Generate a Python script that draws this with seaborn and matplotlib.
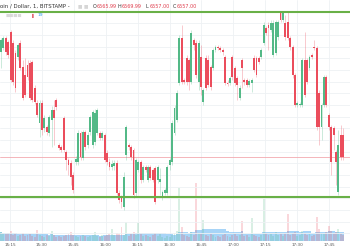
import numpy as np
import pandas as pd
import matplotlib
matplotlib.use("Agg")
import matplotlib.pyplot as plt
import seaborn as sns

# ---------------- data ----------------
open_ = [6567.5, 6567.9, 6568.9, 6568.5, 6569.5, 6568.4, 6567.4, 6567.0, 6568.4, 6566.0,
         6565.2, 6566.2, 6566.4, 6566.5, 6563.9, 6562.4, 6560.4, 6562.4, 6559.9, 6560.0,
         6559.4, 6560.7, 6561.7, 6562.7, 6558.2, 6558.0, 6560.9, 6557.5, 6556.7, 6556.4,
         6555.2, 6556.5, 6556.5, 6559.4, 6556.9, 6559.5, 6558.2, 6559.5, 6558.2, 6558.5,
         6559.4, 6559.4, 6558.9, 6559.2, 6557.4, 6556.5, 6556.0, 6556.1, 6556.4, 6553.4,
         6552.9, 6552.0, 6557.2, 6558.2, 6558.0, 6557.7, 6553.4, 6555.7, 6556.5, 6554.7,
         6556.0, 6554.7, 6556.0, 6555.7, 6555.9, 6554.7, 6554.5, 6553.0, 6553.4, 6553.4,
         6556.2, 6556.5, 6559.4, 6560.7, 6564.4, 6568.9, 6564.7, 6566.9, 6566.7, 6564.5,
         6568.7, 6568.4, 6564.5, 6567.0, 6562.5, 6566.9, 6566.7, 6566.0, 6565.9, 6567.7,
         6568.0, 6567.9, 6567.7, 6567.0, 6564.4, 6564.4, 6567.0, 6565.9, 6564.9, 6562.9,
         6566.7, 6564.7, 6564.7, 6564.2, 6564.4, 6566.9, 6566.9, 6566.9, 6567.0, 6568.4,
         6569.9, 6570.2, 6569.7, 6567.2, 6567.4, 6569.0, 6571.4, 6570.7, 6570.4, 6570.5,
         6568.9, 6568.0, 6565.2, 6562.2, 6562.2, 6562.2, 6566.7, 6566.7, 6565.9, 6567.2,
         6568.0, 6567.9, 6563.4, 6560.0, 6562.2, 6565.0, 6561.2, 6560.0, 6559.9, 6557.5,
         6553.5, 6559.2, 6559.2]
high = [6568.9, 6569.1, 6569.1, 6568.7, 6569.7, 6568.7, 6567.7, 6568.4, 6568.7, 6566.7,
        6566.9, 6566.7, 6566.7, 6566.7, 6564.2, 6562.7, 6562.7, 6562.7, 6561.2, 6560.2,
        6561.2, 6562.1, 6562.7, 6562.9, 6558.4, 6558.2, 6561.1, 6557.7, 6556.9, 6556.7,
        6555.5, 6557.1, 6559.7, 6559.6, 6559.7, 6559.7, 6559.5, 6561.2, 6561.7, 6561.8,
        6561.9, 6559.6, 6559.6, 6559.4, 6557.7, 6556.9, 6556.7, 6556.7, 6556.7, 6553.7,
        6553.2, 6555.5, 6560.2, 6558.4, 6558.2, 6557.9, 6556.9, 6556.7, 6556.7, 6556.2,
        6556.2, 6556.2, 6556.2, 6555.9, 6556.1, 6556.2, 6555.9, 6553.7, 6553.9, 6556.2,
        6556.9, 6560.7, 6562.2, 6563.7, 6569.2, 6570.2, 6564.9, 6567.2, 6566.9, 6569.7,
        6568.9, 6568.7, 6568.7, 6568.2, 6563.9, 6567.2, 6567.2, 6566.2, 6567.9, 6568.2,
        6568.2, 6568.1, 6567.9, 6567.2, 6564.7, 6565.1, 6567.2, 6566.1, 6565.1, 6564.2,
        6566.9, 6564.9, 6564.9, 6564.8, 6564.9, 6567.2, 6567.1, 6567.1, 6567.9, 6570.5,
        6570.1, 6570.5, 6570.7, 6570.7, 6570.7, 6570.7, 6571.5, 6571.5, 6571.2, 6571.5,
        6569.1, 6568.2, 6565.4, 6562.6, 6562.5, 6566.9, 6569.5, 6566.9, 6567.2, 6567.4,
        6568.7, 6568.1, 6563.7, 6562.4, 6565.2, 6565.2, 6561.4, 6560.2, 6560.1, 6557.7,
        6559.7, 6560.2, 6559.9]
low = [6565.9, 6567.7, 6567.2, 6566.9, 6564.5, 6564.2, 6563.5, 6566.7, 6565.7, 6562.7,
       6563.0, 6564.7, 6562.7, 6562.5, 6562.3, 6561.0, 6559.0, 6559.2, 6559.5, 6559.2,
       6559.1, 6558.0, 6558.2, 6561.7, 6557.7, 6557.5, 6557.5, 6555.7, 6555.2, 6554.2,
       6553.4, 6556.2, 6556.2, 6556.7, 6556.7, 6557.7, 6557.9, 6559.2, 6557.9, 6558.2,
       6559.2, 6558.7, 6558.7, 6556.5, 6556.2, 6555.7, 6555.7, 6555.7, 6553.2, 6552.4,
       6551.9, 6551.7, 6556.7, 6557.7, 6556.7, 6552.9, 6553.1, 6555.5, 6554.4, 6554.5,
       6555.5, 6554.5, 6554.7, 6554.5, 6552.3, 6554.4, 6553.2, 6552.7, 6553.2, 6553.2,
       6555.7, 6556.2, 6559.2, 6560.5, 6564.2, 6564.3, 6564.3, 6564.2, 6563.7, 6564.3,
       6567.7, 6564.9, 6563.7, 6563.2, 6562.2, 6563.7, 6564.0, 6563.7, 6565.7, 6567.5,
       6567.7, 6567.5, 6567.2, 6564.2, 6564.1, 6564.2, 6564.7, 6564.1, 6562.7, 6562.7,
       6563.9, 6564.2, 6564.0, 6564.0, 6563.5, 6565.5, 6565.0, 6566.3, 6566.8, 6568.2,
       6569.2, 6567.7, 6569.5, 6567.0, 6567.2, 6568.7, 6570.5, 6570.5, 6568.7, 6568.7,
       6567.7, 6564.9, 6562.0, 6562.0, 6562.0, 6562.0, 6563.0, 6564.3, 6565.7, 6566.8,
       6567.7, 6559.7, 6558.2, 6558.7, 6562.0, 6562.0, 6559.7, 6555.2, 6557.7, 6554.2,
       6553.2, 6556.7, 6556.7]
close = [6568.7, 6568.9, 6567.5, 6567.2, 6564.7, 6564.5, 6563.9, 6568.2, 6565.9, 6562.9,
         6563.2, 6565.0, 6562.9, 6562.7, 6562.5, 6561.2, 6562.4, 6559.7, 6560.9, 6559.5,
         6561.0, 6561.7, 6560.9, 6562.0, 6557.9, 6557.7, 6557.7, 6556.7, 6556.2, 6555.0,
         6553.7, 6556.8, 6559.4, 6557.0, 6559.5, 6558.0, 6559.2, 6561.0, 6561.5, 6561.4,
         6561.7, 6558.9, 6559.4, 6556.7, 6556.5, 6556.0, 6556.3, 6556.4, 6553.4, 6552.7,
         6552.5, 6555.0, 6560.0, 6558.0, 6557.0, 6553.2, 6556.7, 6556.5, 6554.7, 6556.0,
         6555.7, 6556.0, 6554.9, 6554.7, 6552.5, 6556.0, 6554.8, 6553.5, 6553.7, 6556.0,
         6556.7, 6560.4, 6561.9, 6563.4, 6568.9, 6564.5, 6564.5, 6564.5, 6564.5, 6569.4,
         6568.2, 6565.2, 6568.4, 6564.0, 6563.7, 6563.9, 6564.2, 6564.0, 6567.7, 6568.0,
         6567.9, 6567.7, 6567.5, 6564.4, 6564.3, 6564.9, 6565.0, 6564.4, 6564.2, 6563.9,
         6565.9, 6564.5, 6564.2, 6564.6, 6564.7, 6565.7, 6565.2, 6566.5, 6567.7, 6570.2,
         6569.4, 6569.9, 6570.4, 6570.4, 6570.5, 6570.5, 6570.7, 6571.4, 6569.0, 6568.9,
         6568.0, 6565.2, 6562.2, 6562.4, 6562.3, 6566.7, 6563.2, 6564.5, 6567.0, 6567.0,
         6567.9, 6560.0, 6560.0, 6562.2, 6565.0, 6562.2, 6560.0, 6556.5, 6559.2, 6556.5,
         6558.2, 6557.0, 6557.0]
volume = [9, 8, 7, 8, 10, 6, 7, 5, 6, 8,
          5, 6, 7, 5, 4, 11, 6, 5, 4, 6,
          5, 10, 6, 4, 5, 4, 5, 6, 7, 9,
          6, 5, 4, 5, 6, 5, 4, 5, 6, 9,
          5, 4, 6, 5, 6, 7, 12, 6, 8, 7,
          14, 6, 19, 5, 7, 9, 6, 18, 7, 5,
          6, 5, 4, 6, 8, 5, 7, 4, 3, 5,
          4, 6, 8, 10, 53, 14, 6, 5, 4, 9,
          6, 58, 8, 7, 21, 6, 5, 7, 6, 4,
          5, 4, 6, 7, 5, 4, 6, 7, 5, 6,
          20, 5, 6, 4, 23, 6, 5, 4, 6, 42,
          8, 6, 7, 5, 9, 6, 7, 5, 8, 27,
          6, 8, 9, 5, 6, 10, 8, 6, 7, 5,
          6, 24, 12, 8, 7, 9, 15, 10, 8, 9,
          12, 7, 6]

tick_minutes = [15, 30, 45, 60, 75, 90, 105, 120, 135, 150, 165]   # minutes after 15:00
tick_labels = ["15:15", "15:30", "15:45", "16:00", "16:15", "16:30",
               "16:45", "17:00", "17:15", "17:30", "17:45"]
support_level = 6553.0
resistance_level = 6571.5
last_price = 6557.0
symbol_text = "oin / Dollar, 1, BITSTAMP"
header_keys = ["O", "H", "L", "C"]
header_vals = ["6565.99", "6569.99", "6557.00", "6557.00"]
indicator_count = "19"

# ---------------- styling ----------------
sns.set_theme(style="white")
plt.rcParams['font.family'] = ['DejaVu Sans']

UP = "#53b987"
DOWN = "#eb4d5c"

df = pd.DataFrame(dict(o=open_, h=high, l=low, c=close, v=volume))
n = len(df)
t_start, t_step = 10.77, 1.133          # candle placement on the time axis (minutes after 15:00)
df["t"] = t_start + t_step * np.arange(n)
df["up"] = df["c"] >= df["o"]
df["col"] = np.where(df["up"], UP, DOWN)
df["vma"] = df["v"].rolling(20, min_periods=1).mean()

fig = plt.figure(figsize=(3.5, 2.5), dpi=100)
fig.patch.set_facecolor("white")
ax_v = fig.add_axes([0, 9 / 250, 1, 241 / 250])
ax = ax_v.twinx()
ax.set_zorder(ax_v.get_zorder() + 1)
ax.patch.set_visible(False)

xlim = (10.30, 174.85)

# volume panel
ax_v.set_facecolor("white")
ax_v.bar(df["t"], df["vma"], width=t_step, color="#6cb8f2", alpha=0.6, linewidth=0)
ax_v.bar(df["t"], df["v"], width=t_step * 0.8, color=df["col"], alpha=0.22, linewidth=0)
ax_v.set_ylim(0, 241)
ax_v.set_xlim(*xlim)
ax_v.set_yticks([])
ax_v.set_xticks(tick_minutes)
ax_v.set_xticklabels(tick_labels, fontsize=3.0, color="#555555")
ax_v.tick_params(axis="x", length=0, pad=1.5, labelbottom=True)
for xm in tick_minutes:
    ax_v.axvline(xm, color="#eef1f4", lw=0.6, zorder=0)
for s in ax_v.spines.values():
    s.set_visible(False)

# price panel
y_top, y_bot = 6572.7, 6548.6
ax.set_ylim(y_bot, y_top)
ax.set_xlim(*xlim)
for gy in np.arange(6570.37, y_bot, -1.167):
    ax.axhline(gy, color="#eef1f4", lw=0.6, zorder=0)

ax.vlines(df["t"], df["l"], df["h"], colors=df["col"], lw=0.6, alpha=0.35, zorder=2)
body = (df["c"] - df["o"]).abs().clip(lower=0.12)
bottom = df[["o", "c"]].min(axis=1)
ax.bar(df["t"], body, bottom=bottom, width=t_step * 0.78, color=df["col"],
       linewidth=0, zorder=3)

ax.axhline(last_price, color="#f2a9b0", lw=0.6, zorder=1)
ax.axhline(support_level, color="#69b047", lw=1.5, zorder=4)
ax.axhline(resistance_level, color="#69b047", lw=1.5, zorder=4)

ax.set_yticks([])
for s in ax.spines.values():
    s.set_visible(False)

# header
def fx(px):
    return px / 350

def fy(py):
    return 1 - py / 250

fig.text(fx(0), fy(6), symbol_text + " -", fontsize=3.9, color="#333333", va="center", ha="left")
fig.text(fx(78), fy(6), "\u25a0 \u25a0", fontsize=3.4, color="#d6d6d6", va="center", ha="left")
xpos = [93, 118, 146, 173]
for k, v, xp in zip(header_keys, header_vals, xpos):
    fig.text(fx(xp), fy(6), k, fontsize=3.5, color="#333333", va="center", ha="left")
    fig.text(fx(xp + 3.2), fy(6), v, fontsize=3.5, color="#e0404f", va="center", ha="left")
fig.text(fx(6), fy(15.5), "\u25a0\u25a0\u25a0\u25a0", fontsize=3.2, color="#d9d9d9", va="center", ha="left")
fig.text(fx(31.5), fy(15.5), "\u258c", fontsize=3.2, color="#e26a73", va="center", ha="left")
fig.text(fx(38), fy(15.5), indicator_count, fontsize=3.2, color="#2e9cf0", va="center", ha="left")

fig.savefig("out.png", dpi=100, facecolor="white")
